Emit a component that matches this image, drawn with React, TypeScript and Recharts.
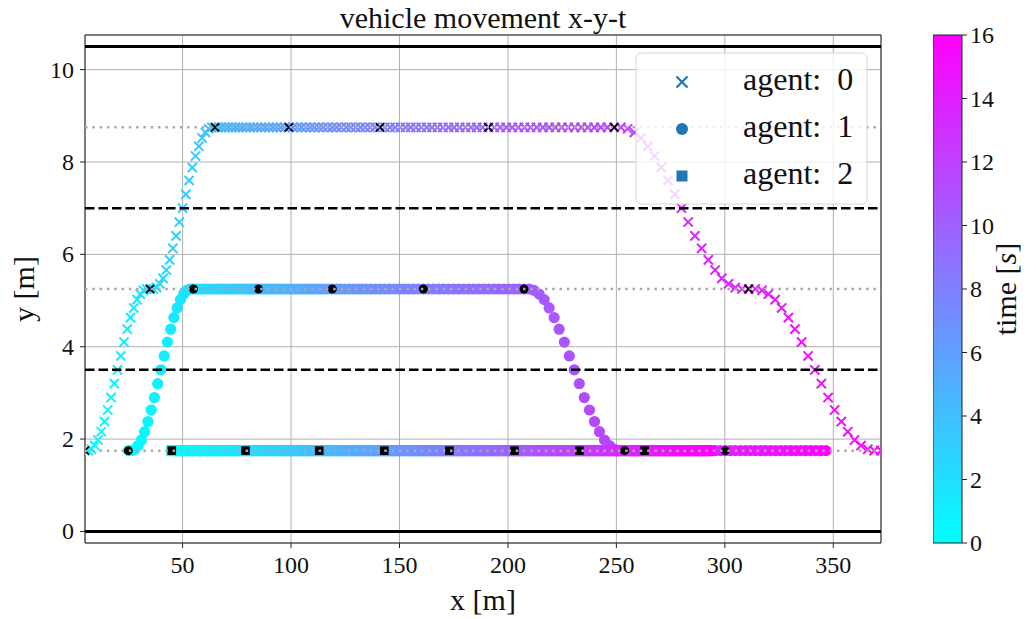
import React from 'react';
import {
  ScatterChart,
  Scatter,
  XAxis,
  YAxis,
  CartesianGrid,
  ReferenceLine,
  ComposedChart,
  Bar,
} from 'recharts';

const FONT = "'Liberation Serif', 'Times New Roman', serif";

// sampling: one point every 0.1 s, 0..16 s
const DT = 0.1;
const T_MAX = 16;

const X_DOMAIN: [number, number] = [5, 372];
const Y_DOMAIN: [number, number] = [-0.25, 10.75];
const xTicks = [50, 100, 150, 200, 250, 300, 350];
const yTicks = [0, 2, 4, 6, 8, 10];
const timeTicks = [0, 2, 4, 6, 8, 10, 12, 14, 16];

const roadEdges = [0, 10.5];
const laneDividers = [3.5, 7];
const laneCenters = [1.75, 5.25, 8.75];

const legendLabels = ['agent:\u00a0 0', 'agent:\u00a0 1', 'agent:\u00a0 2'];

// agent 0: two lane changes up, cruise, two lane changes down
const agent0X = [
  5, 6.5, 8, 9.5, 11, 12.5, 14, 15.5, 17, 18.5,
  20, 21.5, 23, 24.5, 26, 27.5, 29, 30.5, 32, 33.5,
  35, 36.5, 38, 39.5, 41, 42.5, 44, 45.5, 47, 48.5,
  50, 51.5, 53, 54.5, 56, 57.5, 59, 60.5, 62, 63.5,
  65, 66.5, 68.0, 69.6, 71.2, 72.8, 74.4, 76.0, 77.6, 79.3,
  81.0, 82.7, 84.4, 86.2, 88.0, 89.8, 91.6, 93.4, 95.2, 97.1,
  99.0, 100.9, 102.8, 104.8, 106.8, 108.8, 110.8, 112.8, 114.8, 116.9,
  119.0, 121.1, 123.2, 125.4, 127.6, 129.8, 132.0, 134.2, 136.4, 138.7,
  141.0, 143.3, 145.6, 148.0, 150.4, 152.8, 155.2, 157.6, 160.0, 162.5,
  165.0, 167.5, 170.0, 172.6, 175.2, 177.8, 180.4, 183.0, 185.6, 188.3,
  191.0, 193.7, 196.4, 199.2, 202.0, 204.8, 207.6, 210.4, 213.2, 216.1,
  219.0, 221.9, 224.8, 227.8, 230.8, 233.8, 236.8, 239.8, 242.8, 245.9,
  249.0, 252.1, 255.2, 258.3, 261.4, 264.5, 267.6, 270.7, 273.8, 276.9,
  280.0, 283.1, 286.2, 289.3, 292.4, 295.5, 298.6, 301.7, 304.8, 307.9,
  311.0, 314.0, 317.1, 320.1, 323.2, 326.2, 329.3, 332.3, 335.4, 338.4,
  341.5, 344.5, 347.6, 350.6, 353.7, 356.7, 359.8, 362.8, 365.9, 368.9,
  372.0,
];
const agent0Y = [
  1.75,
  1.75, 1.78, 1.86, 1.98, 2.16, 2.38, 2.63, 2.90, 3.20, 3.50,
  3.80, 4.10, 4.38, 4.63, 4.84, 5.02, 5.14, 5.22, 5.25,
  5.25,
  5.25, 5.28, 5.36, 5.48, 5.66, 5.88, 6.13, 6.40, 6.70, 7.00,
  7.30, 7.60, 7.88, 8.13, 8.34, 8.52, 8.64, 8.72, 8.75,
  8.75, 8.75, 8.75, 8.75, 8.75, 8.75, 8.75, 8.75, 8.75,
  8.75, 8.75, 8.75, 8.75, 8.75, 8.75, 8.75, 8.75, 8.75,
  8.75, 8.75, 8.75, 8.75, 8.75, 8.75, 8.75, 8.75, 8.75,
  8.75, 8.75, 8.75, 8.75, 8.75, 8.75, 8.75, 8.75, 8.75,
  8.75, 8.75, 8.75, 8.75, 8.75, 8.75, 8.75, 8.75, 8.75,
  8.75, 8.75, 8.75, 8.75, 8.75, 8.75, 8.75, 8.75, 8.75,
  8.75, 8.75, 8.75, 8.75, 8.75, 8.75, 8.75, 8.75, 8.75,
  8.75, 8.75, 8.75, 8.75, 8.75, 8.75, 8.75, 8.75, 8.75,
  8.75, 8.75, 8.75, 8.75, 8.75, 8.75, 8.75, 8.75, 8.75,
  8.75, 8.72, 8.64, 8.52, 8.34, 8.13, 7.88, 7.60, 7.30, 7.00,
  6.70, 6.40, 6.13, 5.88, 5.66, 5.48, 5.36, 5.28, 5.25,
  5.25,
  5.25, 5.22, 5.14, 5.02, 4.84, 4.63, 4.38, 4.10, 3.80, 3.50,
  3.20, 2.90, 2.63, 2.38, 2.16, 1.98, 1.86, 1.78, 1.75,
  1.75,
];

// agent 1: one lane change up, later back down
const agent1X = [
  25, 26.5, 28, 29.5, 31, 32.5, 34, 35.5, 37, 38.5,
  40, 41.5, 43, 44.5, 46, 47.5, 49, 50.5, 52, 53.5,
  55, 56.5, 58, 59.5, 61, 62.5, 64, 65.5, 67, 68.5,
  70, 71.5, 73, 74.5, 76, 77.5, 79, 80.5, 82, 83.5,
  85, 86.5, 88.0, 89.6, 91.2, 92.8, 94.4, 96.0, 97.6, 99.3,
  101.0, 102.7, 104.4, 106.2, 108.0, 109.8, 111.6, 113.4, 115.2, 117.1,
  119.0, 120.9, 122.8, 124.8, 126.8, 128.8, 130.8, 132.8, 134.8, 136.9,
  139.0, 141.1, 143.2, 145.4, 147.6, 149.8, 152.0, 154.2, 156.4, 158.7,
  161.0, 163.3, 165.6, 168.0, 170.3, 172.6, 174.9, 177.2, 179.6, 181.9,
  184.2, 186.5, 188.8, 191.2, 193.5, 195.8, 198.1, 200.4, 202.8, 205.1,
  207.4, 209.7, 212.0, 214.4, 216.7, 219.0, 221.3, 223.6, 226.0, 228.3,
  230.6, 232.9, 235.2, 237.6, 239.9, 242.2, 244.5, 246.8, 249.2, 251.5,
  253.8, 256.1, 258.4, 260.8, 263.1, 265.4, 267.7, 270.0, 272.4, 274.7,
  277.0, 279.3, 281.6, 284.0, 286.3, 288.6, 290.9, 293.2, 295.6, 297.9,
  300.2, 302.5, 304.8, 307.2, 309.5, 311.8, 314.1, 316.4, 318.8, 321.1,
  323.4, 325.7, 328.0, 330.4, 332.7, 335.0, 337.3, 339.6, 342.0, 344.3,
  346.6,
];
const agent1Y = [
  1.75,
  1.75, 1.78, 1.86, 1.98, 2.16, 2.38, 2.63, 2.90, 3.20, 3.50,
  3.80, 4.10, 4.38, 4.63, 4.84, 5.02, 5.14, 5.22, 5.25,
  5.25, 5.25, 5.25, 5.25, 5.25, 5.25, 5.25, 5.25, 5.25,
  5.25, 5.25, 5.25, 5.25, 5.25, 5.25, 5.25, 5.25, 5.25,
  5.25, 5.25, 5.25, 5.25, 5.25, 5.25, 5.25, 5.25, 5.25,
  5.25, 5.25, 5.25, 5.25, 5.25, 5.25, 5.25, 5.25, 5.25,
  5.25, 5.25, 5.25, 5.25, 5.25, 5.25, 5.25, 5.25, 5.25,
  5.25, 5.25, 5.25, 5.25, 5.25, 5.25, 5.25, 5.25, 5.25,
  5.25, 5.25, 5.25, 5.25, 5.25, 5.25, 5.25, 5.25, 5.25,
  5.25, 5.25, 5.25, 5.25, 5.25, 5.25, 5.25, 5.25, 5.25,
  5.25, 5.25, 5.25, 5.25, 5.25, 5.25, 5.25, 5.25, 5.25,
  5.25, 5.22, 5.14, 5.02, 4.84, 4.63, 4.38, 4.10, 3.80, 3.50,
  3.20, 2.90, 2.63, 2.38, 2.16, 1.98, 1.86, 1.78, 1.75,
  1.75, 1.75, 1.75, 1.75, 1.75, 1.75, 1.75, 1.75, 1.75, 1.75,
  1.75, 1.75, 1.75, 1.75, 1.75, 1.75, 1.75, 1.75, 1.75, 1.75,
  1.75, 1.75, 1.75, 1.75, 1.75, 1.75, 1.75, 1.75, 1.75, 1.75,
  1.75, 1.75, 1.75, 1.75, 1.75, 1.75, 1.75, 1.75, 1.75, 1.75,
  1.75,
];

// agent 2: stays in the right lane
const agent2X = [
  45, 46.7, 48.4, 50.1, 51.8, 53.5, 55.2, 56.9, 58.6, 60.3,
  62, 63.7, 65.4, 67.1, 68.8, 70.5, 72.2, 73.9, 75.6, 77.3,
  79, 80.7, 82.4, 84.1, 85.8, 87.5, 89.2, 90.9, 92.6, 94.3,
  96, 97.7, 99.4, 101.1, 102.8, 104.5, 106.2, 107.9, 109.6, 111.3,
  113, 114.5, 116, 117.5, 119, 120.5, 122, 123.5, 125, 126.5,
  128, 129.5, 131, 132.5, 134, 135.5, 137, 138.5, 140, 141.5,
  143, 144.5, 146, 147.5, 149, 150.5, 152, 153.5, 155, 156.5,
  158, 159.5, 161, 162.5, 164, 165.5, 167, 168.5, 170, 171.5,
  173, 174.5, 176, 177.5, 179, 180.5, 182, 183.5, 185, 186.5,
  188, 189.5, 191, 192.5, 194, 195.5, 197, 198.5, 200, 201.5,
  203, 204.5, 206, 207.5, 209, 210.5, 212, 213.5, 215, 216.5,
  218, 219.5, 221, 222.5, 224, 225.5, 227, 228.5, 230, 231.5,
  233, 234.5, 236, 237.5, 239, 240.5, 242, 243.5, 245, 246.5,
  248, 249.5, 251, 252.5, 254, 255.5, 257, 258.5, 260, 261.5,
  263, 264.5, 266, 267.5, 269, 270.5, 272, 273.5, 275, 276.5,
  278, 279.5, 281, 282.5, 284, 285.5, 287, 288.5, 290, 291.5,
  293,
];
const agent2Y = [
  1.75, 1.75, 1.75, 1.75, 1.75, 1.75, 1.75, 1.75, 1.75, 1.75,
  1.75, 1.75, 1.75, 1.75, 1.75, 1.75, 1.75, 1.75, 1.75, 1.75,
  1.75, 1.75, 1.75, 1.75, 1.75, 1.75, 1.75, 1.75, 1.75, 1.75,
  1.75, 1.75, 1.75, 1.75, 1.75, 1.75, 1.75, 1.75, 1.75, 1.75,
  1.75, 1.75, 1.75, 1.75, 1.75, 1.75, 1.75, 1.75, 1.75, 1.75,
  1.75, 1.75, 1.75, 1.75, 1.75, 1.75, 1.75, 1.75, 1.75, 1.75,
  1.75, 1.75, 1.75, 1.75, 1.75, 1.75, 1.75, 1.75, 1.75, 1.75,
  1.75, 1.75, 1.75, 1.75, 1.75, 1.75, 1.75, 1.75, 1.75, 1.75,
  1.75, 1.75, 1.75, 1.75, 1.75, 1.75, 1.75, 1.75, 1.75, 1.75,
  1.75, 1.75, 1.75, 1.75, 1.75, 1.75, 1.75, 1.75, 1.75, 1.75,
  1.75, 1.75, 1.75, 1.75, 1.75, 1.75, 1.75, 1.75, 1.75, 1.75,
  1.75, 1.75, 1.75, 1.75, 1.75, 1.75, 1.75, 1.75, 1.75, 1.75,
  1.75, 1.75, 1.75, 1.75, 1.75, 1.75, 1.75, 1.75, 1.75, 1.75,
  1.75, 1.75, 1.75, 1.75, 1.75, 1.75, 1.75, 1.75, 1.75, 1.75,
  1.75, 1.75, 1.75, 1.75, 1.75, 1.75, 1.75, 1.75, 1.75, 1.75,
  1.75, 1.75, 1.75, 1.75, 1.75, 1.75, 1.75, 1.75, 1.75, 1.75,
  1.75,
];

type Pt = { x: number; y: number; t: number };

const toPoints = (xs: number[], ys: number[]): Pt[] => xs.map((x, i) => ({ x, y: ys[i], t: i * DT }));
// black markers every 2 s
const every2s = (pts: Pt[]) => pts.filter((_, i) => i % 20 === 0 && i * DT < T_MAX);
const hLine = (y: number) => [{ x: X_DOMAIN[0], y }, { x: X_DOMAIN[1], y }];

const agent0 = toPoints(agent0X, agent0Y);
const agent1 = toPoints(agent1X, agent1Y);
const agent2 = toPoints(agent2X, agent2Y);

// matplotlib "cool" colormap
const coolColor = (t: number) => {
  const f = Math.min(1, Math.max(0, t / T_MAX));
  return `rgb(${Math.round(255 * f)}, ${Math.round(255 * (1 - f))}, 255)`;
};

const crossShape = (h: number, w: number, color?: string) => (p: any) => (
  <path
    d={`M${p.cx - h} ${p.cy - h}L${p.cx + h} ${p.cy + h}M${p.cx - h} ${p.cy + h}L${p.cx + h} ${p.cy - h}`}
    stroke={color ?? coolColor(p.payload.t)}
    strokeWidth={w}
    fill="none"
  />
);
const circleShape = (r: number, color?: string) => (p: any) => (
  <circle cx={p.cx} cy={p.cy} r={r} fill={color ?? coolColor(p.payload.t)} />
);
const squareShape = (h: number, color?: string) => (p: any) => (
  <rect x={p.cx - h} y={p.cy - h} width={2 * h} height={2 * h} fill={color ?? coolColor(p.payload.t)} />
);
const noShape = () => <g />;

const TICK_SIZE = 24;

// serif tick labels; side decides anchor
const makeTick = (side: 'bottom' | 'left' | 'right') => (props: any) => {
  const { x, y, payload } = props;
  if (side === 'bottom') {
    return (
      <text x={x} y={y + 19} textAnchor="middle" fontFamily={FONT} fontSize={TICK_SIZE} fill="#111">
        {payload.value}
      </text>
    );
  }
  return (
    <text x={x} y={y + 8} textAnchor={side === 'left' ? 'end' : 'start'} fontFamily={FONT}
      fontSize={TICK_SIZE} fill="#111">
      {payload.value}
    </text>
  );
};

export default function App() {
  return (
    <div style={{ position: 'absolute', left: 0, top: 0, width: 1036, height: 619, background: '#fff' }}>
      <svg width={1036} height={40} style={{ position: 'absolute', left: 0, top: 0 }}>
        <text x={483} y={28} textAnchor="middle" fontFamily={FONT} fontSize={30} fill="#111">
          vehicle movement x-y-t
        </text>
      </svg>

      <ScatterChart width={1036} height={619} margin={{ top: 35, right: 155, bottom: 36, left: 25 }}>
        <CartesianGrid stroke="#b0b0b0" strokeWidth={1} />
        <XAxis
          type="number" dataKey="x" domain={X_DOMAIN} ticks={xTicks} allowDataOverflow
          height={40} tickSize={5} tickMargin={6} tick={makeTick('bottom')}
          axisLine={{ stroke: '#222' }} tickLine={{ stroke: '#222' }}
          label={{
            content: (props: any) => {
              const vb = props.viewBox;
              return (
                <text x={vb.x + vb.width / 2} y={vb.y + vb.height + 27} textAnchor="middle"
                  fontFamily={FONT} fontSize={30} fill="#111">x [m]</text>
              );
            },
          }}
        />
        <YAxis
          type="number" dataKey="y" domain={Y_DOMAIN} ticks={yTicks} allowDataOverflow
          width={60} tickSize={5} tickMargin={6} tick={makeTick('left')}
          axisLine={{ stroke: '#222' }} tickLine={{ stroke: '#222' }}
          label={{
            content: (props: any) => {
              const vb = props.viewBox;
              const x = vb.x + 9;
              const y = vb.y + vb.height / 2;
              return (
                <text x={x} y={y} transform={`rotate(-90 ${x} ${y})`} textAnchor="middle"
                  fontFamily={FONT} fontSize={30} fill="#111">y [m]</text>
              );
            },
          }}
        />
        <ReferenceLine x={X_DOMAIN[1]} stroke="#222" />
        <ReferenceLine y={Y_DOMAIN[1]} stroke="#222" />

        <Scatter data={agent0} shape={crossShape(4.6, 2)} isAnimationActive={false} />
        <Scatter data={agent1} shape={circleShape(5.6)} isAnimationActive={false} />
        <Scatter data={agent2} shape={squareShape(5.5)} isAnimationActive={false} />
        <Scatter data={every2s(agent0)} shape={crossShape(4, 1.8, '#000')} isAnimationActive={false} />
        <Scatter data={every2s(agent1)} shape={circleShape(4.5, '#000')} isAnimationActive={false} />
        <Scatter data={every2s(agent2)} shape={squareShape(4.3, '#000')} isAnimationActive={false} />

        {roadEdges.map((y) => (
          <Scatter key={`edge-${y}`} data={hLine(y)} shape={noShape} isAnimationActive={false}
            line={{ stroke: '#000', strokeWidth: 3 }} />
        ))}
        {laneDividers.map((y) => (
          <Scatter key={`div-${y}`} data={hLine(y)} shape={noShape} isAnimationActive={false}
            line={{ stroke: '#000', strokeWidth: 2.5, strokeDasharray: '9.5 4' }} />
        ))}
        {laneCenters.map((y) => (
          <Scatter key={`ctr-${y}`} data={hLine(y)} shape={noShape} isAnimationActive={false}
            line={{ stroke: '#a8a8a8', strokeWidth: 2.5, strokeDasharray: '2.5 4.8' }} />
        ))}
      </ScatterChart>

      {/* legend */}
      <svg width={233} height={153} style={{ position: 'absolute', left: 635, top: 52 }}>
        <rect x={1} y={1} width={231} height={151} rx={5} fill="rgba(255,255,255,0.8)" stroke="#d6d6d6" />
        {legendLabels.map((label, i) => {
          const cy = 30 + i * 47;
          const cx = 47;
          return (
            <g key={label}>
              {i === 0 && (
                <path d={`M${cx - 5.5} ${cy - 5.5}L${cx + 5.5} ${cy + 5.5}M${cx - 5.5} ${cy + 5.5}L${cx + 5.5} ${cy - 5.5}`}
                  stroke="#1f77b4" strokeWidth={2.2} />
              )}
              {i === 1 && <circle cx={cx} cy={cy} r={6} fill="#1f77b4" />}
              {i === 2 && <rect x={cx - 5.5} y={cy - 5.5} width={11} height={11} fill="#1f77b4" />}
              <text x={108} y={cy + 8} fontFamily={FONT} fontSize={32} fill="#111">{label}</text>
            </g>
          );
        })}
      </svg>

      {/* colorbar */}
      <div style={{ position: 'absolute', left: 933, top: 0 }}>
        <ComposedChart width={103} height={619} data={[{ name: 'time', value: T_MAX }]}
          margin={{ top: 35, right: 0, bottom: 76, left: 0 }} barCategoryGap={0} barGap={0}>
          <defs>
            <linearGradient id="coolGrad" x1="0" y1="1" x2="0" y2="0">
              <stop offset="0" stopColor={coolColor(0)} />
              <stop offset="1" stopColor={coolColor(T_MAX)} />
            </linearGradient>
          </defs>
          <XAxis type="category" dataKey="name" hide />
          <YAxis
            type="number" orientation="right" domain={[0, T_MAX]} ticks={timeTicks} width={74}
            tickSize={5} tickMargin={3} tick={makeTick('right')}
            axisLine={false} tickLine={{ stroke: '#222' }}
            label={{
              content: (props: any) => {
                const vb = props.viewBox;
                const x = vb.x + 54;
                const y = vb.y + vb.height / 2;
                return (
                  <text x={x} y={y} transform={`rotate(-90 ${x} ${y})`} textAnchor="middle"
                    fontFamily={FONT} fontSize={30} fill="#111">
                    time [<tspan fontStyle="italic">s</tspan>]
                  </text>
                );
              },
            }}
          />
          <Bar dataKey="value" fill="url(#coolGrad)" stroke="#222" strokeWidth={1} isAnimationActive={false} />
        </ComposedChart>
      </div>
    </div>
  );
}
